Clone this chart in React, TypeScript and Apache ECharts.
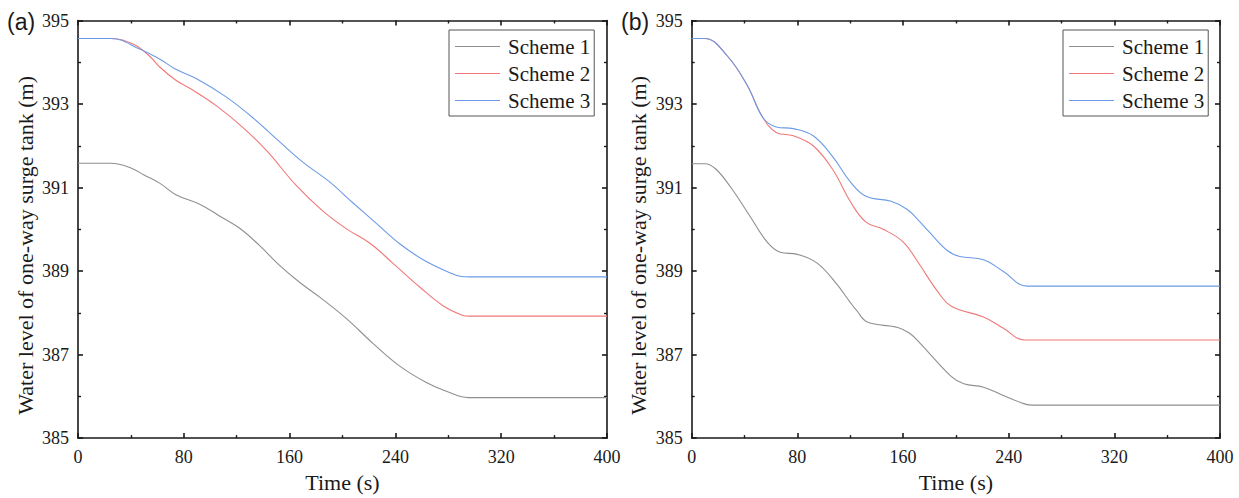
import React, { useEffect, useRef } from "react";
import * as echarts from "echarts";

// ---- Data ----
const seriesNames = ["Scheme 1", "Scheme 2", "Scheme 3"];
const xTicks = [0, 80, 160, 240, 320, 400];
const yTicks = [385, 387, 389, 391, 393, 395];

// Panel (a)
const timeA1 = [0, 25, 40, 50, 62, 74, 92, 107, 122, 137, 152, 168, 183, 203, 223, 243, 263, 281, 295, 400];
const levelA1 = [391.58, 391.58, 391.47, 391.3, 391.1, 390.83, 390.6, 390.32, 390.03, 389.62, 389.15, 388.72, 388.37, 387.86, 387.27, 386.73, 386.34, 386.09, 385.97, 385.97];
const timeA2 = [0, 25, 42, 54, 62, 74, 87, 105, 125, 143, 165, 185, 203, 221, 238, 259, 276, 290, 296, 400];
const levelA2 = [394.57, 394.57, 394.43, 394.15, 393.88, 393.57, 393.33, 392.95, 392.43, 391.87, 391.05, 390.44, 390.01, 389.66, 389.19, 388.6, 388.17, 387.95, 387.92, 387.92];
const timeA3 = [0, 25, 47, 62, 74, 90, 112, 133, 153, 170, 190, 208, 226, 243, 261, 279, 290, 296, 400];
const levelA3 = [394.57, 394.57, 394.31, 394.07, 393.83, 393.6, 393.17, 392.65, 392.08, 391.61, 391.14, 390.63, 390.13, 389.66, 389.27, 388.99, 388.87, 388.86, 388.86];

// Panel (b)
const timeB1 = [0, 10, 18, 29, 44, 57, 67, 80, 95, 110, 120, 125, 133, 156, 165, 173, 196, 206, 221, 236, 252, 258, 400];
const levelB1 = [391.57, 391.57, 391.45, 391.03, 390.32, 389.7, 389.45, 389.4, 389.19, 388.68, 388.25, 388.05, 387.78, 387.65, 387.51, 387.27, 386.49, 386.3, 386.22, 386.02, 385.82, 385.79, 385.79];
const timeB2 = [0, 10, 27, 42, 54, 64, 77, 92, 107, 120, 132, 145, 160, 172, 186, 197, 221, 236, 252, 400];
const levelB2 = [394.57, 394.57, 394.15, 393.45, 392.67, 392.32, 392.24, 392.0, 391.42, 390.67, 390.17, 390.0, 389.7, 389.18, 388.52, 388.15, 387.9, 387.63, 387.35, 387.35];
const timeB3 = [0, 10, 27, 42, 54, 64, 77, 92, 107, 120, 132, 151, 163, 171, 180, 194, 203, 221, 236, 254, 400];
const levelB3 = [394.57, 394.57, 394.15, 393.45, 392.67, 392.45, 392.41, 392.24, 391.73, 391.14, 390.79, 390.67, 390.48, 390.24, 389.93, 389.48, 389.35, 389.27, 388.99, 388.64, 388.64];

const colors = ["#8f8f8f", "#f07878", "#6b9be6"];

const zip = (t: number[], v: number[]) => t.map((x, i) => [x, v[i]]);

const SERIF = "'Liberation Serif', 'Times New Roman', serif";
const SANS = "'Liberation Sans', Arial, sans-serif";

export default function App() {
  const ref = useRef<HTMLDivElement>(null);
  useEffect(() => {
    if (!ref.current) return;
    const chart = echarts.init(ref.current, undefined, { renderer: "svg" });

    const grids = [
      { left: 78, top: 20.5, width: 529, height: 426.5 },
      { left: 691.7, top: 20.5, width: 528.3, height: 426.5 },
    ];

    const axisLine = { show: true, onZero: false, lineStyle: { color: "#1a1a1a", width: 1.6 } };
    const tick = { show: true, inside: true, length: 5, lineStyle: { color: "#1a1a1a", width: 1.6 } };
    const minor = { show: true, splitNumber: 2, length: 3, lineStyle: { color: "#1a1a1a", width: 1.4 } };

    const xAxes: any[] = [];
    const yAxes: any[] = [];
    [0, 1].forEach((g) => {
      xAxes.push({
        gridIndex: g, type: "value", position: "bottom",
        min: xTicks[0], max: xTicks[xTicks.length - 1], interval: xTicks[1] - xTicks[0],
        axisLine, axisTick: tick, minorTick: minor, splitLine: { show: false },
        axisLabel: { show: true, margin: 10, color: "#1a1a1a", fontFamily: SERIF, fontSize: 18 },
        name: "Time (s)", nameLocation: "middle", nameGap: 28,
        nameTextStyle: { color: "#1a1a1a", fontFamily: SERIF, fontSize: 22 },
      });
      xAxes.push({
        gridIndex: g, type: "value", position: "top",
        min: xTicks[0], max: xTicks[xTicks.length - 1], interval: xTicks[1] - xTicks[0],
        axisLine, axisTick: tick, minorTick: minor, splitLine: { show: false },
        axisLabel: { show: false },
      });
      yAxes.push({
        gridIndex: g, type: "value", position: "left",
        min: yTicks[0], max: yTicks[yTicks.length - 1], interval: yTicks[1] - yTicks[0],
        axisLine, axisTick: tick, minorTick: minor, splitLine: { show: false },
        axisLabel: { show: true, margin: 9, color: "#1a1a1a", fontFamily: SERIF, fontSize: 18 },
        name: "Water level of one-way surge tank (m)", nameLocation: "middle", nameGap: 42,
        nameTextStyle: { color: "#1a1a1a", fontFamily: SERIF, fontSize: 22, padding: [0, 32, 0, 0] },
      });
      yAxes.push({
        gridIndex: g, type: "value", position: "right",
        min: yTicks[0], max: yTicks[yTicks.length - 1], interval: yTicks[1] - yTicks[0],
        axisLine, axisTick: tick, minorTick: minor, splitLine: { show: false },
        axisLabel: { show: false },
      });
    });

    const panelData = [
      [zip(timeA1, levelA1), zip(timeA2, levelA2), zip(timeA3, levelA3)],
      [zip(timeB1, levelB1), zip(timeB2, levelB2), zip(timeB3, levelB3)],
    ];

    const series: any[] = [];
    panelData.forEach((pd, p) => {
      pd.forEach((d, i) => {
        series.push({
          type: "line", name: seriesNames[i], data: d,
          xAxisIndex: p * 2, yAxisIndex: p * 2,
          symbol: "none", smooth: 0.4,
          lineStyle: { color: colors[i], width: 1.1 },
          itemStyle: { color: colors[i] },
        });
      });
    });

    const legendBase = {
      orient: "vertical", top: 30, data: seriesNames,
      icon: "rect", itemWidth: 45, itemHeight: 1.2, itemGap: 2,
      padding: [4, 4, 3, 6], borderColor: "#555", borderWidth: 1, borderRadius: 0,
      backgroundColor: "#fff", selectedMode: false,
      textStyle: { color: "#1a1a1a", fontFamily: SERIF, fontSize: 21, lineHeight: 25, padding: [0, 0, 0, 3] },
    };

    chart.setOption({
      animation: false,
      backgroundColor: "#fff",
      grid: grids,
      xAxis: xAxes,
      yAxis: yAxes,
      legend: [
        { ...legendBase, left: 449 },
        { ...legendBase, left: 1063 },
      ],
      graphic: [
        { type: "text", left: 7, top: 10, style: { text: "(a)", fontFamily: SANS, fontSize: 23, fill: "#1a1a1a" } },
        { type: "text", left: 621, top: 10, style: { text: "(b)", fontFamily: SANS, fontSize: 23, fill: "#1a1a1a" } },
      ],
      series,
    });

    return () => chart.dispose();
  }, []);

  return (
    <div
      ref={ref}
      style={{ position: "fixed", left: 0, top: 0, width: 1239, height: 498, background: "#fff" }}
    />
  );
}
